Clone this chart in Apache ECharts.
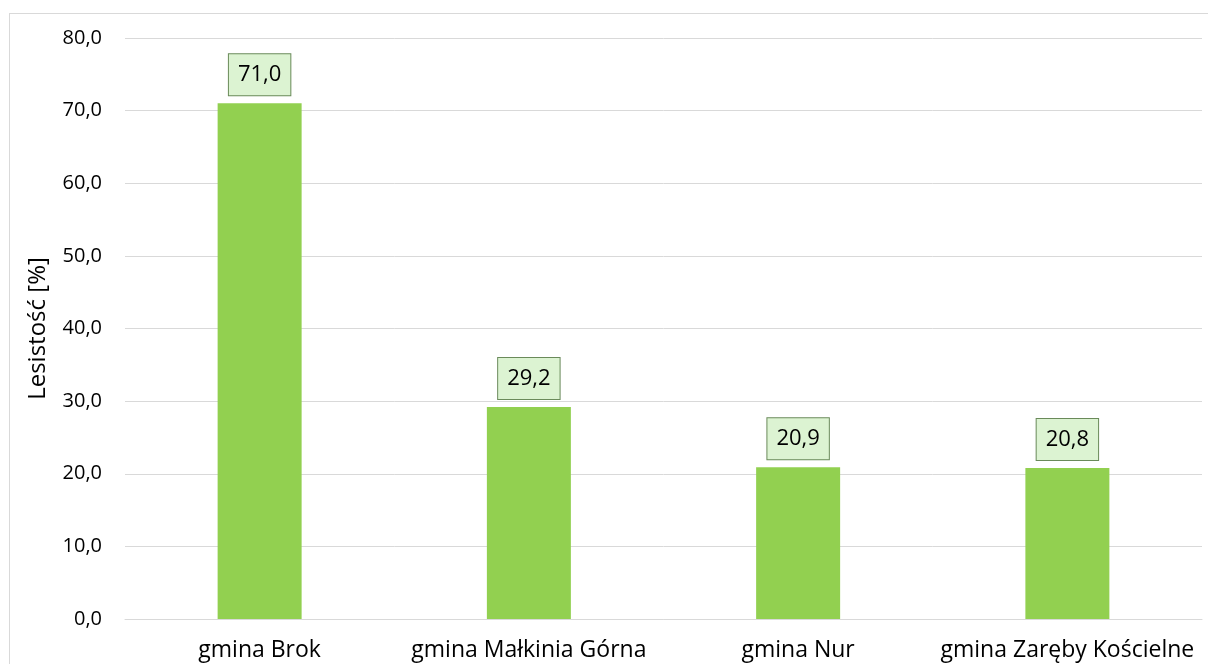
<!DOCTYPE html>
<html><head><meta charset="utf-8">
<script src="https://cdn.jsdelivr.net/npm/echarts@6/dist/echarts.min.js"></script>
<style>html,body{margin:0;padding:0;background:#fff}#c{width:1208px;height:664px}
#frame{position:absolute;left:9px;top:13px;width:1300px;height:700px;border:1px solid #d9d9d9;pointer-events:none}</style>
</head><body><div id="c"></div><div id="frame"></div>
<script>
const categories = ['gmina Brok', 'gmina Małkinia Górna', 'gmina Nur', 'gmina Zaręby Kościelne'];
const values = [71.0, 29.2, 20.9, 20.8];
const yTicks = [0, 10, 20, 30, 40, 50, 60, 70, 80];
const yAxisName = 'Lesistość [%]';
const fmt = v => v.toFixed(1).replace('.', ',');
const font = '"Open Sans", Lato, sans-serif';
const chart = echarts.init(document.getElementById('c'));
chart.setOption({
  animation: false,
  grid: {left: 125, right: 6, top: 38, bottom: 45},
  xAxis: {type: 'category', data: categories,
    axisLine: {show: true, lineStyle: {color: '#d9d9d9', width: 1}},
    axisTick: {show: false},
    axisLabel: {interval: 0, color: '#000', fontFamily: font, fontSize: 23, margin: 20}},
  yAxis: {type: 'value', min: yTicks[0], max: yTicks[yTicks.length-1], interval: 10,
    name: yAxisName, nameLocation: 'middle', nameGap: 75, nameRotate: 90,
    nameTextStyle: {color: '#000', fontFamily: font, fontSize: 24},
    axisLine: {show: false}, axisTick: {show: false},
    axisLabel: {color: '#000', fontFamily: font, fontSize: 20, margin: 23, formatter: v => fmt(v)},
    splitLine: {lineStyle: {color: '#d9d9d9', width: 1}}},
  series: [{type: 'bar', data: values, barWidth: 84,
    itemStyle: {color: '#92d050'},
    label: {show: true, position: 'top', distance: 8, formatter: p => fmt(p.value),
      color: '#000', fontFamily: font, fontSize: 22, lineHeight: 23,
      backgroundColor: '#dcf3d2', borderColor: '#6a8a5a', borderWidth: 1,
      padding: [9, 9, 9, 9]}}]
});
</script></body></html>
